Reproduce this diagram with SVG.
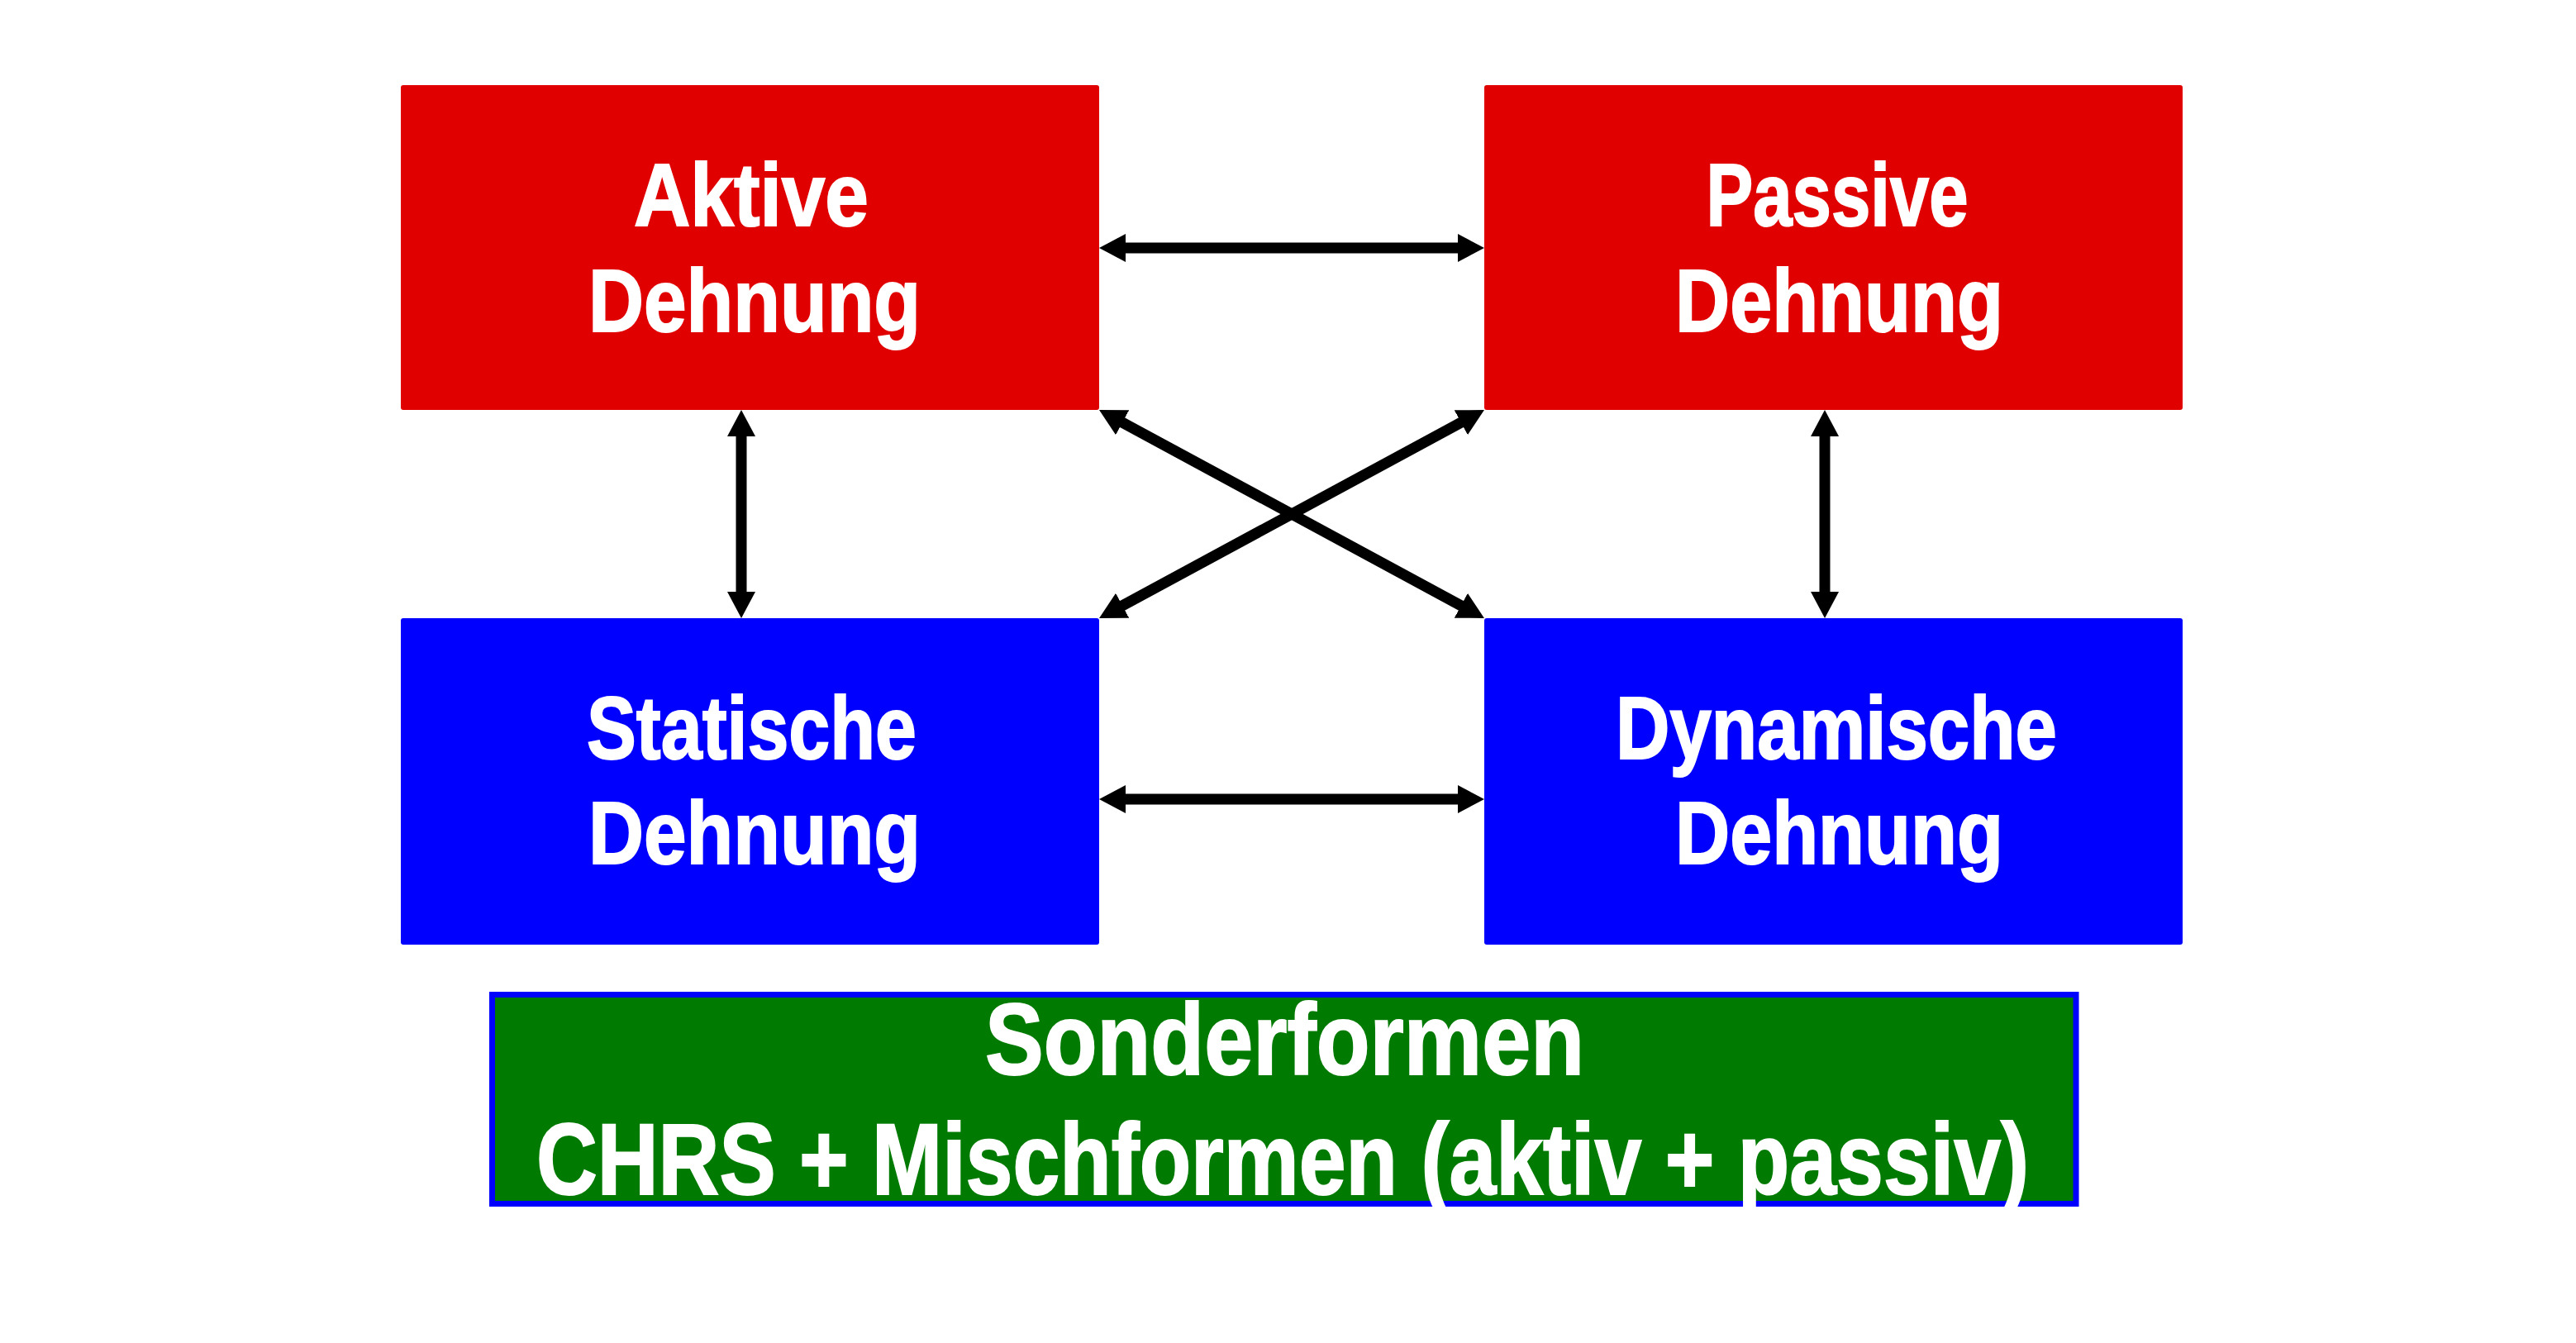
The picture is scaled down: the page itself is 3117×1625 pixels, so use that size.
<svg xmlns="http://www.w3.org/2000/svg" width="3117" height="1625" viewBox="0 0 3117 1625">
<style>
.lbl{font-family:"Liberation Sans",Arial,Helvetica,sans-serif;font-weight:bold;fill:#ffffff;stroke:#ffffff;stroke-width:2;text-anchor:middle}
.n{font-size:108px}
.g{font-size:123px}
.red{fill:#e00000}
.blue{fill:#0000ff}
.conn{stroke:#000;stroke-width:13;fill:none;marker-start:url(#ah);marker-end:url(#ah)}
</style>
<defs>
<marker id="ah" markerUnits="userSpaceOnUse" viewBox="0 0 32 34" refX="2" refY="17" markerWidth="32" markerHeight="34" orient="auto-start-reverse">
<path d="M0,0 L32,17 L0,34 z" fill="#000"/>
</marker>
</defs>
<rect width="3117" height="1625" fill="#ffffff"/>
<g id="aktive">
<rect class="red" x="485" y="103" width="845" height="393" rx="3"/>
<text class="lbl n" x="909" y="273" textLength="284" lengthAdjust="spacingAndGlyphs">Aktive</text>
<text class="lbl n" x="913" y="401" textLength="402" lengthAdjust="spacingAndGlyphs">Dehnung</text>
</g>
<g id="passive">
<rect class="red" x="1796" y="103" width="845" height="393" rx="3"/>
<text class="lbl n" x="2223" y="273" textLength="317" lengthAdjust="spacingAndGlyphs">Passive</text>
<text class="lbl n" x="2225.5" y="401" textLength="397" lengthAdjust="spacingAndGlyphs">Dehnung</text>
</g>
<g id="statische">
<rect class="blue" x="485" y="748" width="845" height="395" rx="3"/>
<text class="lbl n" x="909.5" y="918" textLength="399" lengthAdjust="spacingAndGlyphs">Statische</text>
<text class="lbl n" x="913" y="1045" textLength="402" lengthAdjust="spacingAndGlyphs">Dehnung</text>
</g>
<g id="dynamische">
<rect class="blue" x="1796" y="748" width="845" height="395" rx="3"/>
<text class="lbl n" x="2222" y="918" textLength="534" lengthAdjust="spacingAndGlyphs">Dynamische</text>
<text class="lbl n" x="2225.5" y="1045" textLength="397" lengthAdjust="spacingAndGlyphs">Dehnung</text>
</g>
<g id="sonderformen">
<rect x="595.5" y="1203.5" width="1916.5" height="253" fill="#007a00" stroke="#0000ff" stroke-width="7"/>
<text class="lbl g" x="1554.5" y="1300" textLength="725" lengthAdjust="spacingAndGlyphs">Sonderformen</text>
<text class="lbl g" x="1552" y="1445" textLength="1806" lengthAdjust="spacingAndGlyphs">CHRS + Mischformen (aktiv + passiv)</text>
</g>
<g id="connectors">
<line class="conn" x1="1360" y1="300" x2="1766" y2="300"/>
<line class="conn" x1="1360" y1="967" x2="1766" y2="967"/>
<line class="conn" x1="897" y1="526" x2="897" y2="718"/>
<line class="conn" x1="2208" y1="526" x2="2208" y2="718"/>
<line class="conn" x1="1356.4" y1="510.3" x2="1769.6" y2="733.7"/>
<line class="conn" x1="1769.6" y1="510.3" x2="1356.4" y2="733.7"/>
</g>
</svg>
